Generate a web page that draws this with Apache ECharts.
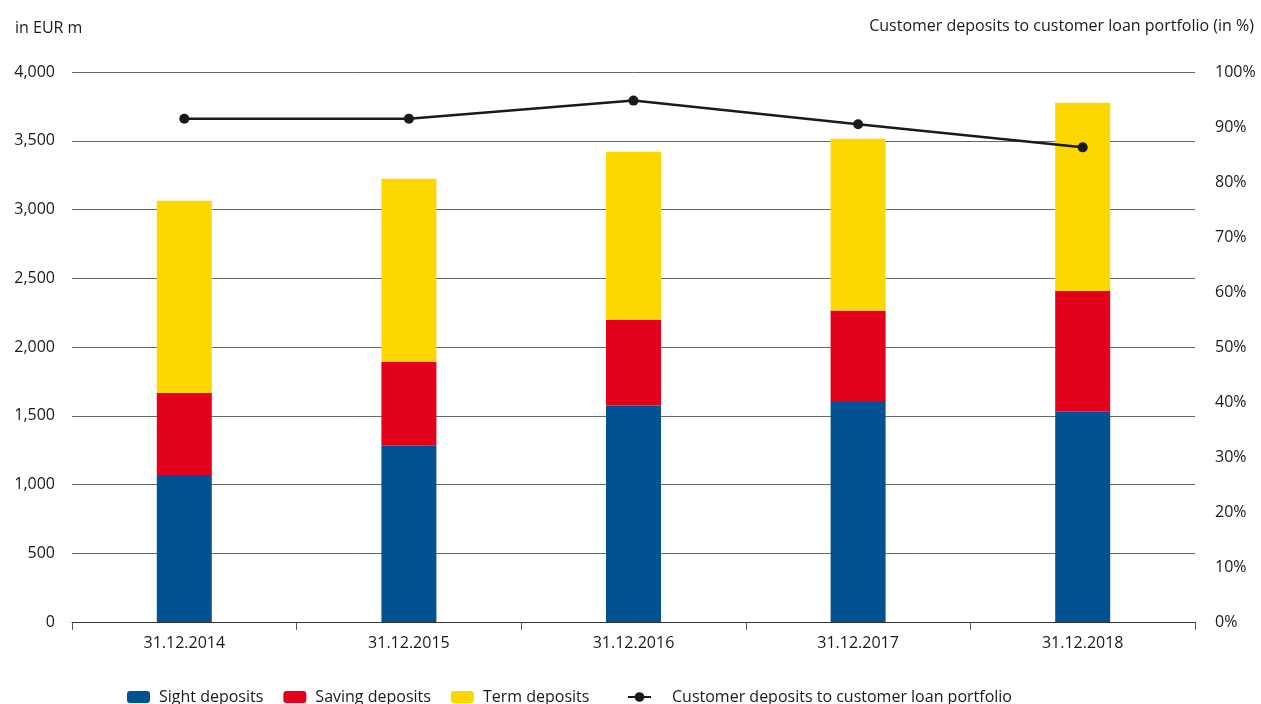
<!DOCTYPE html>
<html><head><meta charset="utf-8">
<script src="https://cdn.jsdelivr.net/npm/echarts@6/dist/echarts.min.js"></script>
<style>html,body{margin:0;padding:0;background:#fff}#c{width:1261px;height:704px}</style>
</head><body><div id="c"></div>
<script>
var categories = ['31.12.2014','31.12.2015','31.12.2016','31.12.2017','31.12.2018'];
var sightDeposits = [1069, 1282, 1574, 1608, 1530];
var savingDeposits = [597, 610, 625, 657, 878];
var termDeposits = [1397, 1331, 1221, 1250, 1368];
var depositRatio = [91.5, 91.5, 94.8, 90.5, 86.3];
var leftTicks = {min: 0, max: 4000, interval: 500};
var rightTicks = {min: 0, max: 100, interval: 10};

var FONT = 'Open Sans';
var FS = 16;
var chart = echarts.init(document.getElementById('c'));
chart.setOption({
  animation: false,
  textStyle: {fontFamily: FONT, color: '#1a1a1a'},
  title: [
    {text: 'in EUR m', left: 10, top: 15, textStyle: {fontFamily: FONT, fontSize: FS, fontWeight: 'normal', color: '#1a1a1a'}},
    {text: 'Customer deposits to customer loan portfolio (in %)', right: 2, top: 13, textStyle: {fontFamily: FONT, fontSize: FS, fontWeight: 'normal', color: '#1a1a1a'}}
  ],
  legend: [{
    left: 122, top: 684, itemWidth: 23, itemHeight: 12, itemGap: 20,
    textStyle: {fontFamily: FONT, fontSize: FS, color: '#1a1a1a', padding: [0,0,0,4]},
    data: ['Sight deposits','Saving deposits','Term deposits']
  }, {
    left: 622, top: 684, itemWidth: 23, itemHeight: 12,
    textStyle: {fontFamily: FONT, fontSize: FS, color: '#1a1a1a', padding: [0,0,0,16]},
    data: ['Customer deposits to customer loan portfolio']
  }],
  grid: {left: 72, right: 66, top: 72, bottom: 82},
  xAxis: {
    type: 'category', data: categories,
    axisLine: {lineStyle: {color: '#333', width: 1}},
    axisTick: {show: true, length: 8, lineStyle: {color: '#555'}},
    axisLabel: {fontFamily: FONT, fontSize: FS, color: '#1a1a1a', margin: 13}
  },
  yAxis: [
    {type: 'value', min: leftTicks.min, max: leftTicks.max, interval: leftTicks.interval,
     axisLine: {show: false}, axisTick: {show: false},
     splitLine: {lineStyle: {color: '#666', width: 1}},
     axisLabel: {fontFamily: FONT, fontSize: FS, color: '#1a1a1a', margin: 17,
       formatter: function(v){return v.toLocaleString('en-US');}}},
    {type: 'value', min: rightTicks.min, max: rightTicks.max, interval: rightTicks.interval,
     position: 'right', axisLine: {show: false}, axisTick: {show: false}, splitLine: {show: false},
     axisLabel: {fontFamily: FONT, fontSize: FS, color: '#1a1a1a', margin: 20, formatter: '{value}%'}}
  ],
  series: [
    {name: 'Sight deposits', type: 'bar', stack: 'd', data: sightDeposits, barWidth: 55, itemStyle: {color: '#005293'}},
    {name: 'Saving deposits', type: 'bar', stack: 'd', data: savingDeposits, barWidth: 55, itemStyle: {color: '#e2001a'}},
    {name: 'Term deposits', type: 'bar', stack: 'd', data: termDeposits, barWidth: 55, itemStyle: {color: '#fdd700'}},
    {name: 'Customer deposits to customer loan portfolio', type: 'line', yAxisIndex: 1, data: depositRatio,
     symbol: 'circle', symbolSize: 10, lineStyle: {color: '#1a1a1a', width: 2.5}, itemStyle: {color: '#1a1a1a'}}
  ]
});
</script></body></html>
